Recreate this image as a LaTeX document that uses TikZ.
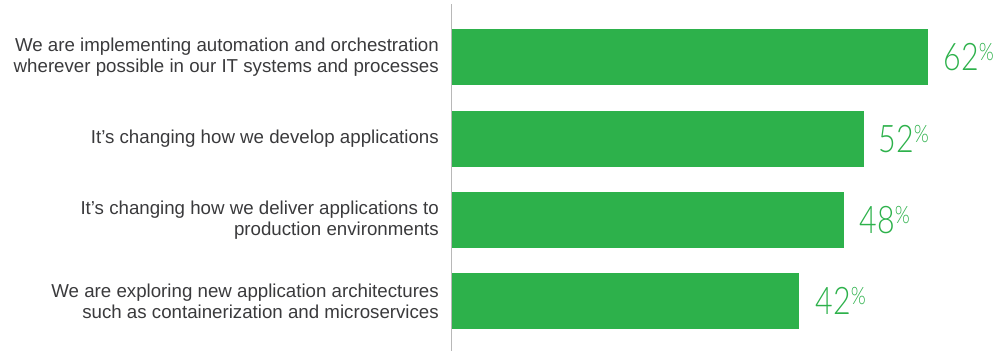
\documentclass[tikz,border=0pt]{standalone}
\usepackage{fontspec}
\setmainfont{Liberation Sans}
\newfontfamily\pctfont{Lato Light}[FakeStretch=0.8]
\usetikzlibrary{positioning}
\definecolor{bargreen}{HTML}{2DB14B}
\definecolor{labelgray}{HTML}{3A3A3C}
\newcommand{\pc}{\raisebox{10pt}{\fontsize{24}{24}\selectfont\%}}

\begin{document}
\begin{tikzpicture}[x=1pt, y=-1pt,
  bar/.style={fill=bargreen, draw=none, rectangle, inner sep=0pt, minimum height=56pt, anchor=west},
  question/.style={align=right, text=labelgray, font=\fontsize{18.7}{21}\selectfont, inner sep=0pt, anchor=east},
  value/.style={text=bargreen, font=\pctfont\fontsize{38}{38}\selectfont, inner sep=0pt, anchor=west}]
\useasboundingbox (0,0) rectangle (998,351);
% axis
\coordinate (axtop) at (451.5,4);
\coordinate (axbot) at (451.5,351);
\draw[line width=1.5pt, draw=black!28] (axtop) -- (axbot);
% bars
\node (bar1) [bar, minimum width=476pt] at (452,57) {};
\node (bar2) [bar, minimum width=412pt] at (452,139) {};
\node (bar3) [bar, minimum width=392pt] at (452,220) {};
\node (bar4) [bar, minimum width=347pt] at (452,301) {};
% questions
\node (q1) [question, left=13pt of bar1] {We are implementing automation and orchestration\\wherever possible in our IT systems and processes};
\node (q2) [question, left=13pt of bar2] {It's changing how we develop applications};
\node (q3) [question, left=13pt of bar3] {It's changing how we deliver applications to\\production environments};
\node (q4) [question, left=13pt of bar4] {We are exploring new application architectures\\such as containerization and microservices};
% values
\node (v1) [value, right=15pt of bar1] {62\pc};
\node (v2) [value, right=14pt of bar2] {52\pc};
\node (v3) [value, right=15pt of bar3] {48\pc};
\node (v4) [value, right=16pt of bar4] {42\pc};
\end{tikzpicture}
\end{document}
